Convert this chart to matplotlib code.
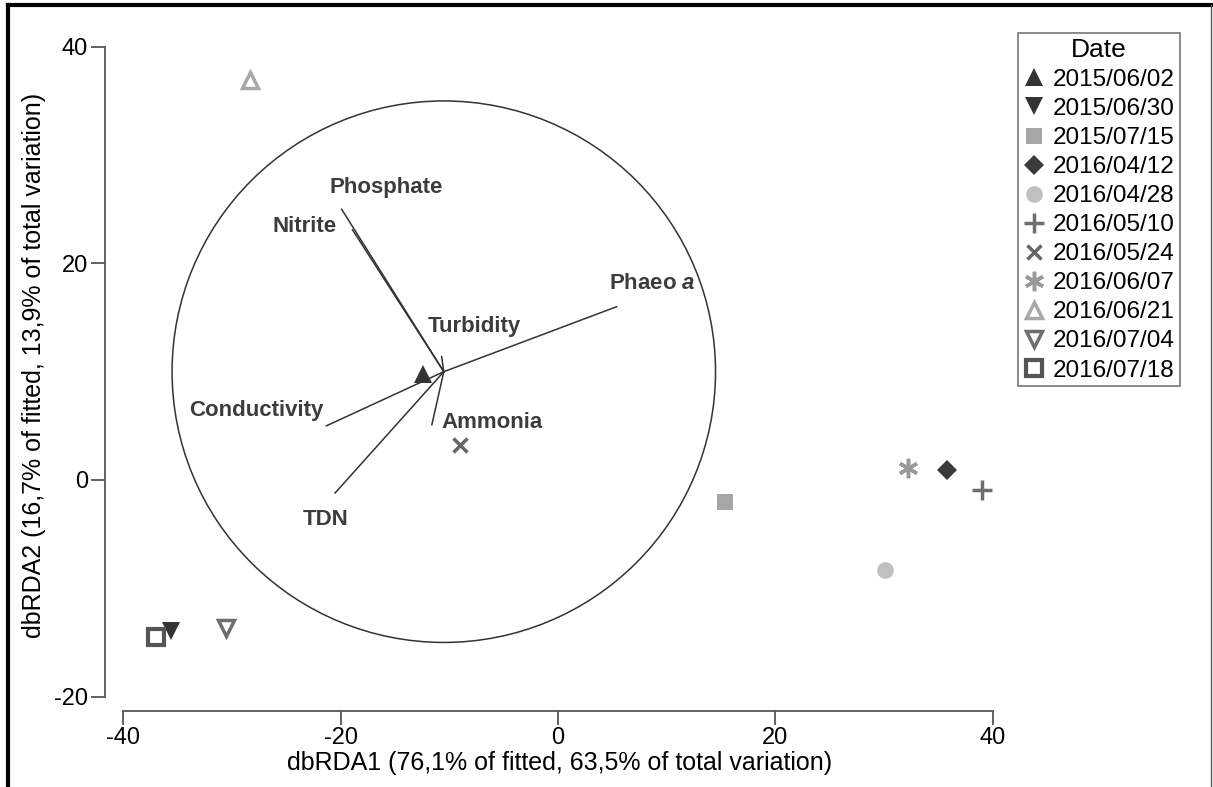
import numpy as np
import matplotlib
matplotlib.use("Agg")
import matplotlib.pyplot as plt
from matplotlib.patches import Ellipse
from matplotlib.lines import Line2D

plt.rcParams['font.family'] = ['Liberation Sans', 'DejaVu Sans']
plt.rcParams['axes.unicode_minus'] = False
plt.rcParams['mathtext.fontset'] = 'custom'
plt.rcParams['mathtext.it'] = 'Liberation Sans:bold:italic'

# sample scores
dates = ["2015/06/02", "2015/06/30", "2015/07/15", "2016/04/12", "2016/04/28",
         "2016/05/10", "2016/05/24", "2016/06/07", "2016/06/21", "2016/07/04",
         "2016/07/18"]
rda1 = [-12.4, -35.6, 15.4, 35.8, 30.1, 39.0, -9.0, 32.2, -28.3, -30.5, -37.0]
rda2 = [9.8, -13.9, -2.0, 0.9, -8.3, -0.9, 3.2, 1.1, 36.9, -13.7, -14.5]

# environmental vectors (origin + tips)
vec_origin = (-10.5, 10.0)
vec_names = ["Phosphate", "Nitrite", "Turbidity", "Phaeo $\\mathit{a}$",
             "Conductivity", "Ammonia", "TDN"]
vec_x = [-19.9, -18.9, -10.7, 5.4, -21.3, -11.6, -20.5]
vec_y = [25.0, 23.1, 11.4, 16.0, 5.0, 5.1, -1.2]
circle_r = 25.0

# marker styles: (marker, size, face, edge, edgewidth)
styles = [
    ("^", 13, "#333333", "#333333", 0),
    ("v", 13, "#333333", "#333333", 0),
    ("s", 12, "#a6a6a6", "#a6a6a6", 0),
    ("D", 10, "#3a3a3a", "#3a3a3a", 0),
    ("o", 12, "#c0c0c0", "#c0c0c0", 0),
    ("+", 15, "none", "#6e6e6e", 2.5),
    ("x", 10, "none", "#666666", 2.5),
    ((6, 2, 0), 14, "none", "#9a9a9a", 2.5),
    ("^", 12, "none", "#a8a8a8", 2.5),
    ("v", 12, "none", "#6e6e6e", 2.5),
    ("s", 11, "none", "#555555", 3),
]

# label offsets in pixels relative to vector tips
lab_off = [(45, 22), (-48, 3), (33, 30), (36, 23), (-70, 15), (60, 2), (-9, -27)]

fig = plt.figure(figsize=(12.13, 7.87), dpi=100)
ax = fig.add_axes([0.0863, 0.0970, 0.750, 0.8573])
ax.set_xlim(-41.7, 42)
ax.set_ylim(-21.3, 41)

ax.add_patch(Ellipse(vec_origin, 2 * circle_r, 2 * circle_r, fill=False,
                     edgecolor="#333333", lw=1.1))
for name, x, y, off in zip(vec_names, vec_x, vec_y, lab_off):
    ax.plot([vec_origin[0], x], [vec_origin[1], y], color="#333333", lw=1.1)
    ax.annotate(name, (x, y), xytext=off, textcoords="offset pixels",
                ha="center", va="center", fontsize=16, fontweight="bold",
                color="#3c3c3c")

handles = []
for xi, yi, d, (m, ms, fc, ec, mew) in zip(rda1, rda2, dates, styles):
    ax.plot(xi, yi, linestyle="none", marker=m, markersize=ms,
            markerfacecolor=fc, markeredgecolor=ec, markeredgewidth=mew)
    handles.append(Line2D([], [], linestyle="none", marker=m, markersize=ms,
                          markerfacecolor=fc, markeredgecolor=ec,
                          markeredgewidth=mew, label=d))

for s in ["top", "right"]:
    ax.spines[s].set_visible(False)
ax.spines["left"].set_bounds(-20, 40)
ax.spines["bottom"].set_bounds(-40, 40)
for s in ["left", "bottom"]:
    ax.spines[s].set_color("#555555")
    ax.spines[s].set_linewidth(1.3)
ax.set_xticks([-40, -20, 0, 20, 40])
ax.set_yticks([-20, 0, 20, 40])
ax.tick_params(length=10, width=1.3, color="#555555", labelsize=17, pad=2)
ax.set_xlabel("dbRDA1 (76,1% of fitted, 63,5% of total variation)", fontsize=18, labelpad=1)
ax.set_ylabel("dbRDA2 (16,7% of fitted, 13,9% of total variation)", fontsize=18)
ax.yaxis.set_label_coords(-0.065, 0.512)

leg = fig.legend(handles=handles, title="Date", loc="upper left",
                 bbox_to_anchor=(1018 / 1213, 1 - 33 / 787), fontsize=17.5,
                 title_fontsize=19, frameon=True, fancybox=False,
                 handlelength=0.9, handletextpad=0.35, labelspacing=0.29,
                 borderpad=0.2, borderaxespad=0)
leg.get_frame().set_edgecolor("#555555")
leg.get_frame().set_linewidth(1.2)

# outer frame of the figure
fig.add_artist(Line2D([8 / 1213, 1211 / 1213], [1 - 5 / 787, 1 - 5 / 787],
                      transform=fig.transFigure, color="black", lw=3))
fig.add_artist(Line2D([8 / 1213, 8 / 1213], [0, 1 - 5 / 787],
                      transform=fig.transFigure, color="black", lw=3))
fig.add_artist(Line2D([1211 / 1213, 1211 / 1213], [0, 1 - 5 / 787],
                      transform=fig.transFigure, color="#555555", lw=1))

fig.savefig("out.png", dpi=100)
